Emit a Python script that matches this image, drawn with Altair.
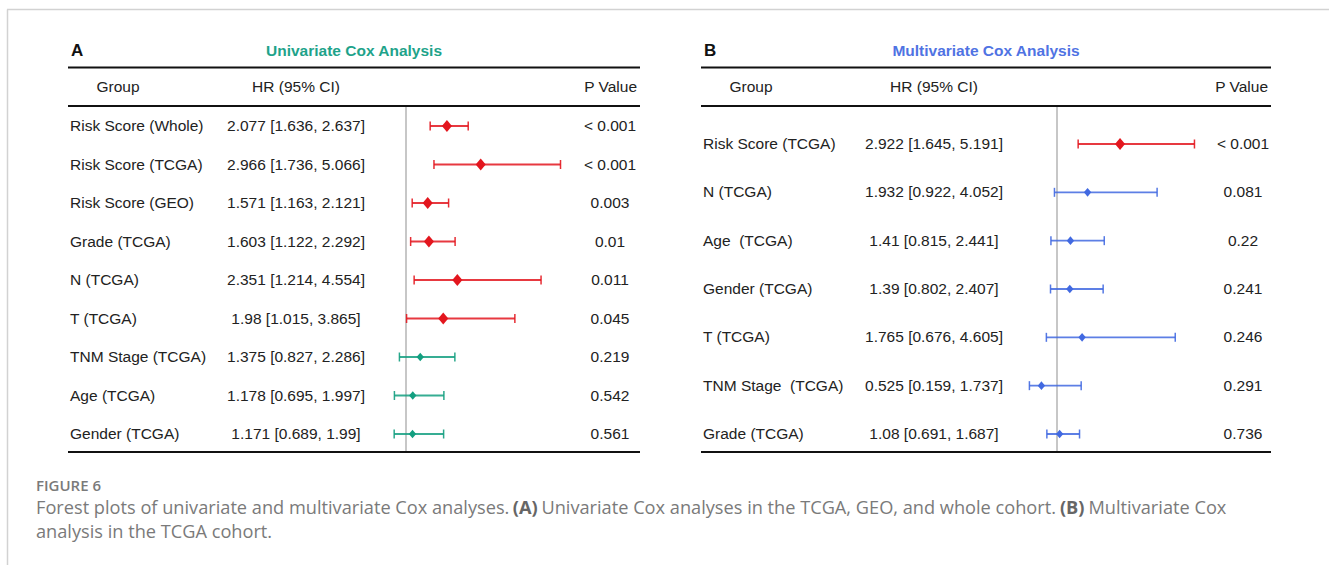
import altair as alt
import pandas as pd

# ---- Univariate Cox results ----
uni_groups = ["Risk Score (Whole)", "Risk Score (TCGA)", "Risk Score (GEO)", "Grade (TCGA)",
              "N (TCGA)", "T (TCGA)", "TNM Stage (TCGA)", "Age (TCGA)", "Gender (TCGA)"]
uni_hr = [2.077, 2.966, 1.571, 1.603, 2.351, 1.98, 1.375, 1.178, 1.171]
uni_lo = [1.636, 1.736, 1.163, 1.122, 1.214, 1.015, 0.827, 0.695, 0.689]
uni_hi = [2.637, 5.066, 2.121, 2.292, 4.554, 3.865, 2.286, 1.997, 1.99]
uni_p = ["< 0.001", "< 0.001", "0.003", "0.01", "0.011", "0.045", "0.219", "0.542", "0.561"]

# ---- Multivariate Cox results ----
multi_groups = ["Risk Score (TCGA)", "N (TCGA)", "Age\u00a0 (TCGA)", "Gender (TCGA)",
                "T (TCGA)", "TNM Stage\u00a0 (TCGA)", "Grade (TCGA)"]
multi_hr = [2.922, 1.932, 1.41, 1.39, 1.765, 0.525, 1.08]
multi_lo = [1.645, 0.922, 0.815, 0.802, 0.676, 0.159, 0.691]
multi_hi = [5.191, 4.052, 2.441, 2.407, 4.605, 1.737, 1.687]
multi_p = ["< 0.001", "0.081", "0.22", "0.241", "0.246", "0.291", "0.736"]

# ---- caption segments (text, bold) ----
caption_line1 = [
    ("Forest plots of univariate and multivariate Cox analyses.", False),
    ("(A)", True),
    ("Univariate Cox analyses in the TCGA, GEO, and whole cohort.", False),
    ("(B)", True),
    ("Multivariate Cox", False),
]
caption_line2 = "analysis in the TCGA cohort."

FONT = "Liberation Sans"
CAP_FONT = "Open Sans"
INK = "#222222"
RED = "#e3161e"
TEAL = "#139f80"
BLUE = "#4169e1"
DIAMOND = "M0,-1L0.85,0L0,1L-0.85,0Z"

one = pd.DataFrame({"k": [0]})


def make_table(groups, hr, lo, hi, p):
    p_num = [0.0 if s.startswith("<") else float(s) for s in p]
    return pd.DataFrame({
        "row": list(range(len(groups))),
        "group": groups,
        "hr": hr,
        "lo": lo,
        "hi": hi,
        "ci": [f"{h} [{a}, {b}]" for h, a, b in zip(hr, lo, hi)],
        "p": p,
        "level": ["sig" if v < 0.05 else "ns" for v in p_num],
    })


def label(text, x, y, **style):
    return alt.Chart(one).mark_text(text=text, **style).encode(x=alt.value(x), y=alt.value(y))


def hline(x0, x1, y, width=2, color="#111111"):
    return alt.Chart(one).mark_rule(strokeWidth=width, color=color).encode(
        x=alt.value(x0), x2=alt.value(x1), y=alt.value(y))


def panel(df, letter, title, title_color, ns_color, left, right,
          ref_px, px_per_unit, y_range, col_hr, col_p):
    # linear HR axis: HR = 1 sits at ref_px
    xs = alt.Scale(domain=[0, 6], range=[ref_px - px_per_unit, ref_px + 5 * px_per_unit],
                   nice=False, zero=False)
    ys = alt.Scale(domain=[0, len(df) - 1], range=y_range, nice=False, zero=False)
    cs = alt.Scale(domain=["sig", "ns"], range=[RED, ns_color])
    ss = alt.Scale(domain=["sig", "ns"], range=[140, 75])

    base = alt.Chart(df)
    X = lambda f: alt.X(f"{f}:Q", scale=xs, axis=None)
    Y = alt.Y("row:Q", scale=ys, axis=None)
    C = alt.Color("level:N", scale=cs, legend=None)

    ref = alt.Chart(pd.DataFrame({"ref": [1.0]})).mark_rule(
        color="#b5b5b5", strokeWidth=1.5).encode(
        x=alt.X("ref:Q", scale=xs, axis=None), y=alt.value(106), y2=alt.value(452))

    ci = base.mark_rule(strokeWidth=1.9, opacity=0.85).encode(x=X("lo"), x2="hi:Q", y=Y, color=C)
    cap_lo = base.mark_tick(orient="vertical", size=9, thickness=1.5, opacity=0.9).encode(
        x=X("lo"), y=Y, color=C)
    cap_hi = base.mark_tick(orient="vertical", size=9, thickness=1.5, opacity=0.9).encode(
        x=X("hi"), y=Y, color=C)
    dia = base.mark_point(shape=DIAMOND, filled=True, opacity=1).encode(
        x=X("hr"), y=Y, color=C, size=alt.Size("level:N", scale=ss, legend=None))

    txt = dict(font=FONT, fontSize=15.5, color=INK, baseline="middle")
    grp = base.mark_text(align="left", **txt).encode(x=alt.value(left + 2), y=Y, text="group:N")
    hrt = base.mark_text(align="center", **txt).encode(x=alt.value(col_hr), y=Y, text="ci:N")
    pt = base.mark_text(align="center", **txt).encode(x=alt.value(col_p), y=Y, text="p:N")

    head = [
        label(letter, left + 3, 51, font=FONT, fontSize=17, fontWeight="bold",
              color="#111111", align="left", baseline="middle"),
        label(title, (left + right) / 2, 51, font=FONT, fontSize=15.5, fontWeight="bold",
              color=title_color, align="center", baseline="middle"),
        label("Group", left + 50, 87, align="center", **txt),
        label("HR (95% CI)", col_hr, 87, align="center", **txt),
        label("P Value", right - 3, 87, align="right", **txt),
        hline(left, right, 67.5),
        hline(left, right, 106),
        hline(left, right, 452),
    ]
    return alt.layer(ref, ci, cap_lo, cap_hi, dia, grp, hrt, pt, *head)


uni = make_table(uni_groups, uni_hr, uni_lo, uni_hi, uni_p)
multi = make_table(multi_groups, multi_hr, multi_lo, multi_hi, multi_p)

panel_a = panel(uni, "A", "Univariate Cox Analysis", "#1ea38a", TEAL,
                left=68, right=640, ref_px=406, px_per_unit=38, y_range=[126, 434],
                col_hr=296, col_p=610)
panel_b = panel(multi, "B", "Multivariate Cox Analysis", "#4f73e3", BLUE,
                left=701, right=1271, ref_px=1057, px_per_unit=32.8, y_range=[144, 434],
                col_hr=934, col_p=1243)

# page frame
frame = alt.layer(
    hline(7, 1329, 9.5, width=1.5, color="#d2d2d2"),
    alt.Chart(one).mark_rule(strokeWidth=1.5, color="#d2d2d2").encode(
        x=alt.value(7.5), y=alt.value(9.5), y2=alt.value(565)),
)

# caption: segments laid out one after another (approximate em advances)
CAP_SIZE = 18.2
seg_em = [25.94, 1.31, 28.23, 1.31, 7.54]
space_em = 0.26
cap = dict(font=CAP_FONT, fontSize=CAP_SIZE, color="#7a7a7a", align="left", baseline="middle")
capb = dict(cap, fontWeight="bold", color="#666666")
layers = [label("FIGURE 6", 36, 486, font=CAP_FONT, fontSize=15, fontWeight=600,
                color="#7a7a7a", align="left", baseline="middle")]
x = 36.0
for (text, bold), em in zip(caption_line1, seg_em):
    layers.append(label(text, round(x, 1), 509, **(capb if bold else cap)))
    x += (em + space_em) * CAP_SIZE
layers.append(label(caption_line2, 36, 533, **cap))
caption = alt.layer(*layers)

chart = alt.layer(frame, panel_a, panel_b, caption).resolve_scale(
    x="independent", y="independent", color="independent", size="independent"
).properties(
    width=1329, height=565, padding=0, background="white",
    autosize=alt.AutoSizeParams(type="none"),
).configure_view(stroke=None)

chart.save("out.html", embed_options={"renderer": "svg", "actions": False})
